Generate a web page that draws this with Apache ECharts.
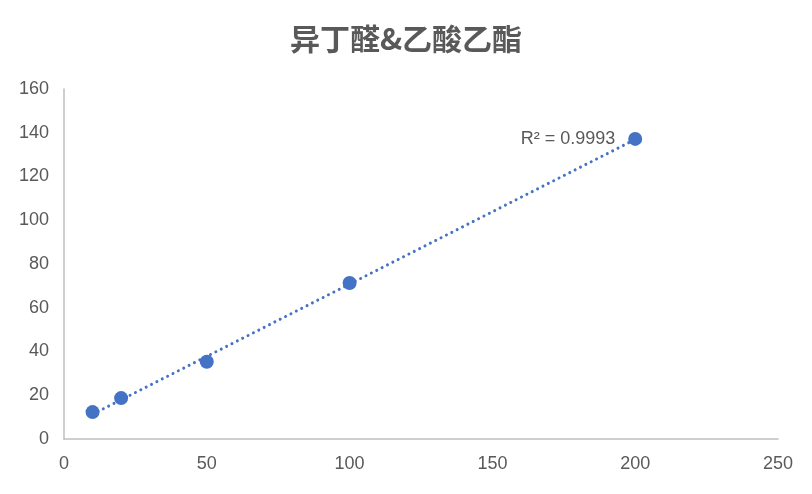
<!DOCTYPE html>
<html><head><meta charset="utf-8">
<script src="https://cdn.jsdelivr.net/npm/echarts@6/dist/echarts.min.js"></script>
<style>html,body{margin:0;padding:0;background:#fff}#c{width:812px;height:494px}</style>
</head><body><div id="c"></div>
<script>
const titleText = '异丁醛&乙酸乙酯';
const xValues = [10, 20, 50, 100, 200];
const yValues = [12.3, 18.7, 35.3, 71.3, 137.2];
const r2Label = 'R² = 0.9993';

// linear least-squares trendline derived from the data
const n = xValues.length;
const mx = xValues.reduce((a,b)=>a+b,0)/n;
const my = yValues.reduce((a,b)=>a+b,0)/n;
let sxy = 0, sxx = 0;
for (let i=0;i<n;i++){ sxy += (xValues[i]-mx)*(yValues[i]-my); sxx += (xValues[i]-mx)**2; }
const slope = sxy/sxx, icpt = my - slope*mx;
const xMin = Math.min(...xValues), xMax = Math.max(...xValues);
const trend = [[xMin, icpt+slope*xMin], [xMax, icpt+slope*xMax]];

const font = "'Liberation Sans', Arial, sans-serif";
const chart = echarts.init(document.getElementById('c'));
chart.setOption({
  animation: false,
  title: { text: titleText, left: 'center', top: 19,
    textStyle: { fontFamily: "'Noto Sans CJK SC', sans-serif", fontSize: 30, fontWeight: 'bold', color: '#595959' } },
  grid: { left: 64, right: 34, top: 89, bottom: 55 },
  xAxis: { type: 'value', min: 0, max: 250, interval: 50,
    axisLine: { show: true, lineStyle: { color: '#bfbfbf', width: 1.5 } },
    axisTick: { show: false }, splitLine: { show: false },
    axisLabel: { color: '#595959', fontSize: 18, fontFamily: font, margin: 16 } },
  yAxis: { type: 'value', min: 0, max: 160, interval: 20,
    axisLine: { show: true, lineStyle: { color: '#bfbfbf', width: 1.5 } },
    axisTick: { show: false }, splitLine: { show: false },
    axisLabel: { color: '#595959', fontSize: 18, fontFamily: font, margin: 15 } },
  series: [
    { type: 'line', data: trend, symbol: 'none', silent: true,
      lineStyle: { color: '#4472C4', width: 3, type: [0.01, 6], cap: 'round' },
      markPoint: { symbol: 'circle', symbolSize: 0,
        data: [{ coord: trend[1], value: r2Label }],
        label: { show: true, position: 'left', distance: 20, formatter: r2Label,
          color: '#595959', fontSize: 18, fontFamily: font } }
    },
    { type: 'scatter', data: xValues.map((x,i)=>[x, yValues[i]]), symbolSize: 14,
      itemStyle: { color: '#4472C4', opacity: 1 } }
  ]
});
</script></body></html>
